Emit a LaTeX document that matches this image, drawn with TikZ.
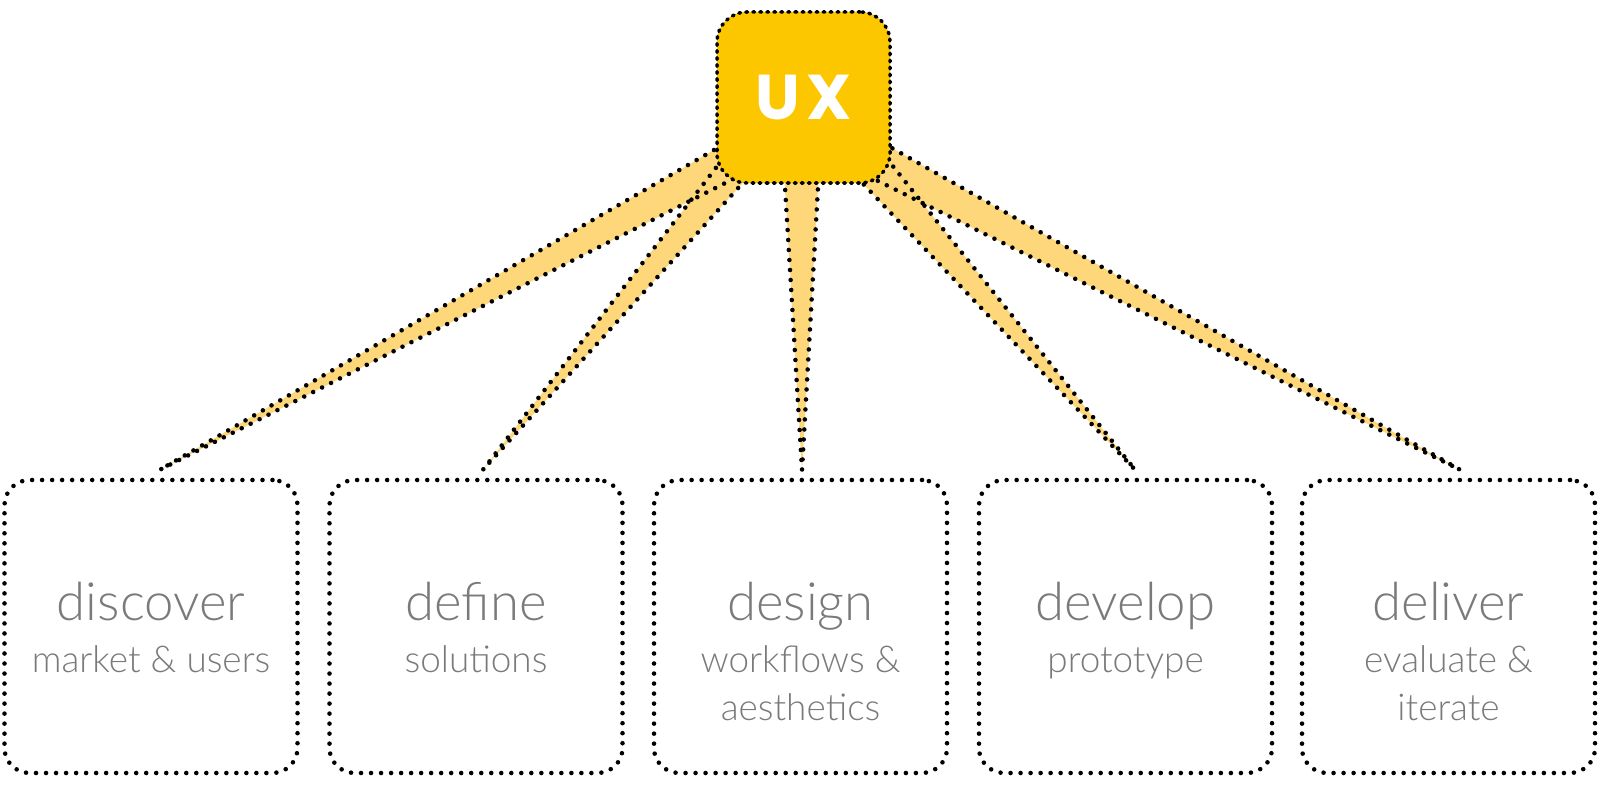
\documentclass[tikz,border=0pt]{standalone}
\usepackage{fontspec}
\setmainfont{Lato Light}
\newfontfamily\uxfont{Poppins}
\usetikzlibrary{positioning, calc, backgrounds}

\definecolor{uxgold}{RGB}{253,199,0}
\definecolor{rayfill}{RGB}{253,215,122}
\definecolor{labelgray}{RGB}{122,122,122}

\tikzset{
  dots/.style={line width=1.3pt, line cap=round, dash pattern=on 0pt off 2.85pt},
  stagebox/.style={draw, dots, rounded corners=0.25cm, minimum width=2.93cm, minimum height=2.93cm},
  uxbox/.style={draw, fill=uxgold, line width=1pt, line cap=round, dash pattern=on 0.5pt off 1.5pt,
    rounded corners=0.3cm, minimum width=1.73cm, minimum height=1.71cm,
    text=white, font=\uxfont\bfseries\fontsize{18}{21}\selectfont},
  stagetitle/.style={anchor=base, text=labelgray, font=\fontsize{15}{18}\selectfont},
  stagesub/.style={anchor=base, align=center, text=labelgray, font=\fontsize{10.5}{13.7}\selectfont},
  ray/.style={fill=rayfill},
  rayedge/.style={dots}
}

\begin{document}
\begin{tikzpicture}
  \useasboundingbox (0,0) rectangle (16,7.85);

  % the five stages
  \node[stagebox] (discover) at (1.51,1.585) {};
  \node[stagebox] (define) at (4.76,1.585) {};
  \node[stagebox] (design) at (8.005,1.585) {};
  \node[stagebox] (develop) at (11.255,1.585) {};
  \node[stagebox] (deliver) at (14.485,1.585) {};

  % base sits on the last line of the subtitle
  \foreach \stage/\sub/\drop in {discover/{market \& users}/1.95, define/solutions/1.95,
      design/{workflows \&\\aesthetics}/2.43, develop/prototype/1.95, deliver/{evaluate \&\\iterate}/2.43} {
    \node[stagetitle] (\stage-t) at ([yshift=-1.43cm]\stage.north) {\stage};
    \node[stagesub] (\stage-s) at ([yshift=-\drop cm]\stage.north) {\sub};
  }

  \node[uxbox] (ux) at (8.035,6.875) {U\kern0.1em X};

  % rays from ux down to each stage
  \begin{scope}[on background layer]
    \fill[white] (0,0) rectangle (16,7.85);
    \foreach \stage/\ax/\ay/\bx/\by/\tx in {discover/-0.635/-0.375/-0.585/-0.755/0.09,
        define/-0.815/-0.625/-0.445/-0.675/0.07, design/-0.195/-0.725/0.155/-0.725/0.015,
        develop/0.465/-0.725/0.765/-0.525/0.095, deliver/0.715/-0.41/0.665/-0.795/0.115}
      \fill[ray] ($(ux.center)+(\ax,\ay)$) -- ([shift={(\tx,0.08)}]\stage.north)
        -- ($(ux.center)+(\bx,\by)$) -- cycle;
    \foreach \stage/\ax/\ay/\bx/\by/\tx in {discover/-0.635/-0.375/-0.585/-0.755/0.09,
        define/-0.815/-0.625/-0.445/-0.675/0.07, design/-0.195/-0.725/0.155/-0.725/0.015,
        develop/0.465/-0.725/0.765/-0.525/0.095, deliver/0.715/-0.41/0.665/-0.795/0.115}
      \draw[rayedge] ($(ux.center)+(\ax,\ay)$) -- ([shift={(\tx,0.08)}]\stage.north)
        -- ($(ux.center)+(\bx,\by)$);
  \end{scope}
\end{tikzpicture}
\end{document}
